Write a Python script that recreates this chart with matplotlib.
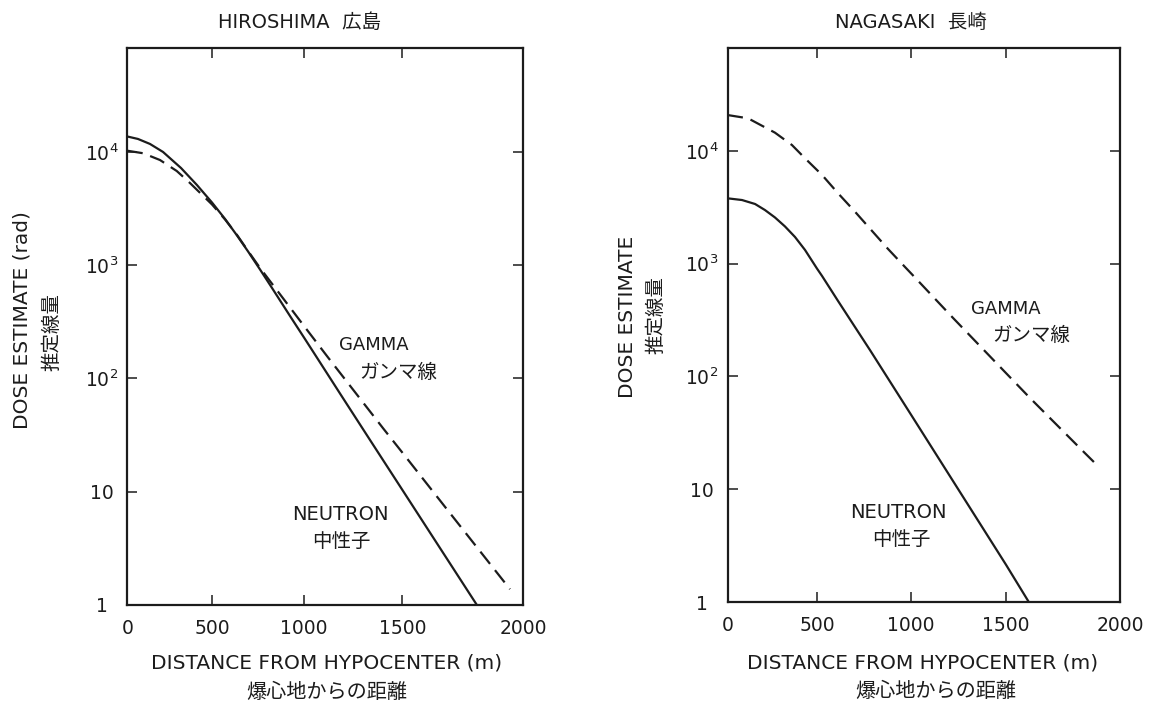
import numpy as np
import matplotlib
matplotlib.use("Agg")
import matplotlib.pyplot as plt
from matplotlib.ticker import FixedLocator, FixedFormatter, NullLocator

# ---------------- data ----------------
dose_ticks = [1, 10, 100, 1000, 10000]
dose_tick_labels = ["1", "10", "10$^2$", "10$^3$", "10$^4$"]
distance_ticks = [0, 500, 1000, 1500, 2000]
distance_tick_labels = ["0", "500", "1000", "1500", "2000"]

hiroshima_neutron_x = [0, 63, 134, 211, 317, 411, 500, 571, 636, 696, 761, 821, 929, 1000,
                       1036, 1193, 1336, 1500, 1664, 1809]
hiroshima_neutron_y = [13700, 13030, 11770, 10000, 7220, 5110, 3580, 2560, 1830, 1323, 917,
                       649, 346, 230, 184, 69.3, 28.6, 10.4, 3.0, 1.0]

hiroshima_gamma_x = [0, 94, 193, 292, 370, 500, 571, 636, 696, 761, 860, 1000, 1119,
                     1403, 1500, 1684, 1946]
hiroshima_gamma_y = [10260, 9740, 8490, 6790, 5320, 3440, 2535, 1850, 1336, 946, 581, 291,
                     156, 36.2, 22.2, 7.04, 1.38]

nagasaki_neutron_x = [0, 81, 154, 209, 265, 321, 377, 433, 500, 527, 612, 702, 782, 1000,
                      1500, 1600]
nagasaki_neutron_y = [3790, 3660, 3375, 2985, 2565, 2135, 1722, 1321, 903, 776, 466, 274,
                      171, 45.8, 2.14, 1.0]

nagasaki_gamma_x = [0, 115, 265, 360, 433, 527, 612, 702, 793, 878, 968, 1000, 1058, 1142,
                    1221, 1500, 1605, 1846, 1908]
nagasaki_gamma_y = [20750, 19400, 14480, 11250, 8580, 6100, 4200, 2885, 1945, 1347, 933,
                    820, 646, 457, 330, 107, 64.4, 20.9, 15.7]

# ---------------- style ----------------
plt.rcParams["font.family"] = ["DejaVu Sans", "Noto Sans CJK JP"]
plt.rcParams["mathtext.fontset"] = "dejavusans"
INK = "#1c1c1c"
W, H = 1150, 705

# the printed distance axes are not evenly spaced: measured tick spacing (pixels)
HIRO_TICK_SPACING = [0, 84.7, 176.7, 275.0, 395.7]
NAGA_TICK_SPACING = [0, 89.5, 183.5, 278.5, 392.5]


def set_uneven_scale(ax, spacing):
    d = np.array(distance_ticks, dtype=float)
    p = np.array(spacing, dtype=float)
    d_ext = np.concatenate([[d[0] - 10000], d, [d[-1] + 10000]])
    s0 = (p[1] - p[0]) / (d[1] - d[0])
    s1 = (p[-1] - p[-2]) / (d[-1] - d[-2])
    p_ext = np.concatenate([[p[0] - 10000 * s0], p, [p[-1] + 10000 * s1]])

    def fwd(x):
        return np.interp(np.asarray(x, dtype=float), d_ext, p_ext)

    def inv(y):
        return np.interp(np.asarray(y, dtype=float), p_ext, d_ext)

    ax.set_xscale("function", functions=(fwd, inv))


def px_rect(x0, x1, top, bottom):
    return [x0 / W, 1 - bottom / H, (x1 - x0) / W, (bottom - top) / H]


def ftext(fig, px, py, s, size=13, rot=0, **kw):
    fig.text(px / W, 1 - py / H, s, ha="center", va="center", fontsize=size,
             rotation=rot, color=INK, **kw)


fig = plt.figure(figsize=(W / 100, H / 100), dpi=100)
fig.patch.set_facecolor("white")

ax1 = fig.add_axes(px_rect(127.3, 523, 48, 605))
ax2 = fig.add_axes(px_rect(727.5, 1120, 48, 602))

setups = [
    (ax1, HIRO_TICK_SPACING, 82800, hiroshima_neutron_x, hiroshima_neutron_y,
     hiroshima_gamma_x, hiroshima_gamma_y),
    (ax2, NAGA_TICK_SPACING, 81500, nagasaki_neutron_x, nagasaki_neutron_y,
     nagasaki_gamma_x, nagasaki_gamma_y),
]

for ax, spacing, ytop, nx, ny, gx, gy in setups:
    set_uneven_scale(ax, spacing)
    ax.set_yscale("log")
    ax.plot(nx, ny, color=INK, lw=1.6, solid_capstyle="butt", solid_joinstyle="round")
    ax.plot(gx, gy, color=INK, lw=1.6, linestyle=(0, (7.0, 3.6)), dash_capstyle="butt")
    ax.set_xlim(0, 2000)
    ax.set_ylim(1, ytop)

    ax.xaxis.set_major_locator(FixedLocator(distance_ticks))
    ax.xaxis.set_major_formatter(FixedFormatter(distance_tick_labels))
    ax.xaxis.set_minor_locator(NullLocator())
    ax.yaxis.set_major_locator(FixedLocator(dose_ticks))
    ax.yaxis.set_major_formatter(FixedFormatter(dose_tick_labels))
    ax.yaxis.set_minor_locator(NullLocator())

    ax.tick_params(axis="both", which="major", direction="in", length=7.5, width=1.1,
                   colors=INK, labelsize=13.5, top=True, right=True)
    ax.tick_params(axis="x", pad=10)
    ax.tick_params(axis="y", pad=18.5)
    for lbl in ax.get_yticklabels():
        lbl.set_horizontalalignment("center")
    for sp in ax.spines.values():
        sp.set_linewidth(1.6)
        sp.set_color(INK)

# titles
ftext(fig, 300, 22, "HIROSHIMA  広島", size=14)
ftext(fig, 911, 22, "NAGASAKI  長崎", size=14)

# x-axis labels
ftext(fig, 327, 663, "DISTANCE FROM HYPOCENTER (m)", size=14.5)
ftext(fig, 327, 692, "爆心地からの距離", size=14.5)
ftext(fig, 923, 663, "DISTANCE FROM HYPOCENTER (m)", size=14.5)
ftext(fig, 936, 691, "爆心地からの距離", size=14.5)

# y-axis labels
ftext(fig, 22, 320, "DOSE ESTIMATE (rad)", size=14.5, rot=90)
ftext(fig, 52, 332, "推定線量", size=14, rot=90)
ftext(fig, 627, 317, "DOSE ESTIMATE", size=14.5, rot=90)
ftext(fig, 656, 315, "推定線量", size=14, rot=90)

# curve labels
ftext(fig, 374, 345, "GAMMA", size=13)
ftext(fig, 398, 372, "ガンマ線", size=14)
ftext(fig, 340, 515, "NEUTRON", size=14)
ftext(fig, 341, 541, "中性子", size=14)

ftext(fig, 1006, 309, "GAMMA", size=13)
ftext(fig, 1031, 335, "ガンマ線", size=14)
ftext(fig, 898, 513, "NEUTRON", size=14)
ftext(fig, 901, 539, "中性子", size=14)

fig.savefig("out.png", dpi=100, facecolor="white")
